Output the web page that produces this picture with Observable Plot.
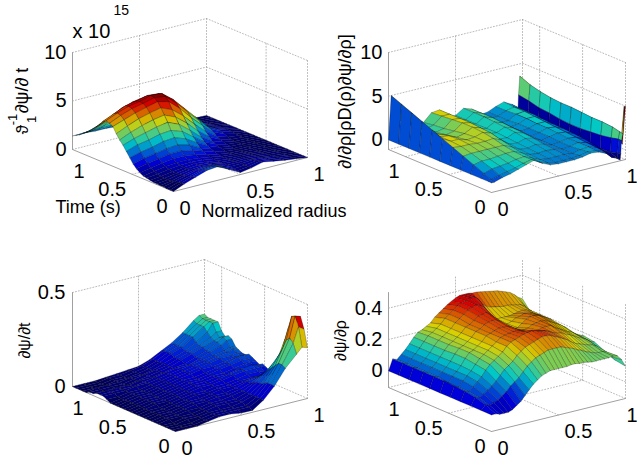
<!DOCTYPE html>
<html><head><meta charset="utf-8">
<script src="https://cdn.jsdelivr.net/npm/d3@7"></script>
<script src="https://cdn.jsdelivr.net/npm/@observablehq/plot@0.6"></script>
<style>html,body{margin:0;padding:0;background:#fff}</style></head><body><div id="chart"></div>
<script>
// --- Values. Rows: fraction along the time axis; columns: normalized radius.
const p1Rows=[0,.033,.067,.1,.133,.167,.2,.233,.267,.3,.333,.367,.4,.433,.467,.5,.533,.567,.6,.633,.667,.7,.733,.767,.8,.833,.867,.9,.933,.967,1];
const p1Cols=[0,.083,.167,.25,.333,.417,.5,.583,.667,.75,.833,.917,1];
const p1Z=[
[0,.5,.9,1.3,1.4,.8,.2,.4,.7,.5,.3,.15,0],
[0,.45,.85,1.2,1.3,.8,.25,.4,.65,.45,.3,.15,0],
[0,.35,.7,1,1.15,.8,.3,.4,.55,.42,.28,.12,0],
[.05,.3,.6,.9,1,.8,.4,.4,.5,.4,.25,.1,0],
[.05,.22,.52,.75,.85,.72,.4,.4,.42,.32,.2,.1,0],
[.07,.2,.46,.65,.75,.65,.4,.36,.36,.28,.18,.1,0],
[.1,.2,.4,.6,.7,.6,.4,.3,.3,.25,.15,.1,0],
[.16,.26,.45,.6,.7,.6,.4,.3,.26,.22,.12,.07,0],
[.23,.36,.56,.67,.72,.62,.43,.3,.23,.18,.1,.05,0],
[.3,.5,.7,.8,.8,.7,.5,.3,.2,.15,.1,.05,0],
[.5,.7,.9,1.05,1.05,.88,.62,.36,.2,.12,.1,.05,0],
[.75,1,1.2,1.4,1.42,1.2,.8,.46,.22,.1,.1,.05,0],
[1.1,1.4,1.6,1.8,1.9,1.6,1,.6,.3,.1,.1,.05,0],
[1.6,1.9,2.1,2.4,2.5,2.1,1.4,.8,.36,.16,.1,.05,0],
[2.1,2.5,2.7,3,3.1,2.7,1.85,1.05,.5,.22,.1,.05,0],
[2.6,3,3.3,3.6,3.8,3.3,2.4,1.4,.7,.3,.1,.05,0],
[3,3.5,3.9,4.2,4.4,3.9,3,1.9,1,.42,.16,.08,0],
[3.5,4,4.45,4.75,5,4.5,3.6,2.45,1.4,.62,.25,.1,0],
[4.1,4.5,4.9,5.2,5.5,5.2,4.2,3,1.9,.9,.4,.15,0],
[4.3,4.8,5.2,5.45,5.75,5.6,4.6,3.4,2.25,1.1,.55,.2,0],
[4.4,4.9,5.3,5.5,5.85,5.75,4.85,3.65,2.45,1.25,.62,.25,0],
[4.2,4.7,5.2,5.4,5.7,5.6,4.8,3.6,2.4,1.2,.6,.25,0],
[3.75,4.25,4.85,5.2,5.4,5.2,4.5,3.4,2.25,1.1,.55,.22,0],
[3.35,3.85,4.4,4.75,4.95,4.75,4.05,3,1.9,.95,.48,.18,0],
[3,3.4,3.9,4.2,4.4,4.2,3.5,2.6,1.6,.8,.4,.15,0],
[2.65,3,3.35,3.6,3.75,3.6,2.95,2.2,1.35,.66,.33,.12,0],
[2.35,2.6,2.9,3.05,3.2,3.05,2.5,1.8,1.1,.52,.26,.1,0],
[2.1,2.2,2.4,2.5,2.6,2.4,2,1.4,.9,.4,.2,.1,0],
[1.8,1.9,2,2,2.05,1.9,1.6,1.12,.7,.32,.14,.06,0],
[1.6,1.65,1.65,1.62,1.6,1.5,1.25,.85,.52,.26,.1,.05,0],
[1.4,1.4,1.3,1.3,1.2,1.1,.9,.6,.4,.2,.1,.05,0]];

const p2Rows=[0,.03,.1,.2,.3,.4,.5,.6,.7,.8,.9,1];
const p2Cols=[0,.02,.08,.14,.2,.26,.32,.38,.44,.5,.56,.62,.68,.74,.8,.86,.92,.96,.965,.97,.98,.99,1];
const p2Z=[
[0,0,.3,.5,.8,1.1,1.4,.8,.4,.3,.3,.3,.4,.6,.5,.1,-.6,-1,-.3,1.2,1.9,5,5],
[0,.15,.4,.6,.8,1.1,1.3,.8,.5,.3,.3,.3,.4,.6,.5,.2,-.7,-.9,-.4,1.2,2,.8,.5],
[0,.5,.8,.9,1,1.2,1.3,.9,.5,.4,.4,.4,.3,.5,.6,.3,-.4,-.6,-.6,1,2.2,1,.7],
[0,1,1.2,1.2,1.3,1.4,1.4,1,.6,.5,.6,.5,.3,.4,.6,.4,-.1,-.7,-.7,.8,2.3,1.1,.8],
[0,1.5,1.6,1.6,1.6,1.6,1.6,1.2,.7,.6,.8,.6,.3,.4,.6,.5,.1,-.8,-.8,.7,2.3,1.1,.8],
[0,2,1.9,1.9,1.8,1.8,1.9,1.5,.8,.7,1,.8,.3,.5,.7,.6,.2,-.8,-.8,.6,2.4,1.2,.9],
[0,2.5,2,2,1.7,1.8,2.1,1.8,.9,.8,1.2,.9,.3,.5,.8,.7,.3,-.8,-.8,.6,2.5,1.3,1],
[0,3,2,1.9,1.5,1.7,2.2,1.9,1,.9,1.3,1,.4,.5,.8,.8,.3,-.8,-.8,.7,2.5,1.3,1],
[0,3.5,2,1.6,1.3,1.5,2.2,2,1.1,.9,1.4,1.1,.4,.5,.9,.9,.4,-.8,-.8,.9,2.6,1.4,1.1],
[0,4,2,1.5,1.1,1.3,2.1,2,1.1,.9,1.5,1.2,.4,.4,.9,1,.5,-.8,-.8,1,2.8,1.6,1.3],
[0,4.5,2,1.4,1,1.2,2,2,1.1,.9,1.5,1.2,.3,.4,.8,1,.5,-.8,-.8,1.3,3.1,1.9,1.6],
[0,5,2,1.4,.9,1,1.9,2,1,.9,1.5,1.2,.3,.4,.8,1.1,.6,-.8,-.8,1.5,3.6,2.4,2.1]];

const p3Rows=p1Rows;
const p3Cols=[0,.083,.167,.25,.333,.417,.5,.583,.667,.75,.833,.917,.958,1];
const p3Z=[
[0,0,0,.01,.02,.02,.01,.01,.05,.11,.19,.25,.28,.27],
[0,0,0,.01,.02,.02,.02,.02,.05,.11,.2,.3,.38,.36],
[0,0,0,.01,.02,.02,.02,.02,.05,.11,.2,.32,.43,.42],
[0,0,.01,.01,.02,.02,.02,.03,.05,.1,.18,.3,.42,.4],
[0,0,.01,.01,.02,.03,.03,.03,.05,.09,.16,.25,.35,.33],
[0,.01,.01,.01,.02,.03,.03,.03,.05,.09,.14,.21,.28,.27],
[0,.01,.01,.02,.02,.03,.03,.04,.05,.08,.12,.17,.21,.2],
[0,.01,.01,.02,.03,.03,.04,.04,.05,.07,.1,.13,.15,.15],
[0,.01,.01,.02,.03,.03,.04,.04,.05,.07,.08,.1,.11,.1],
[0,.01,.01,.02,.03,.03,.04,.05,.05,.06,.07,.07,.07,.06],
[0,.01,.01,.02,.03,.04,.04,.05,.05,.06,.06,.06,.05,.05],
[0,.01,.01,.02,.03,.04,.04,.05,.05,.06,.07,.07,.06,.06],
[0,.01,.02,.02,.03,.04,.05,.05,.06,.07,.08,.08,.08,.07],
[0,.01,.02,.02,.03,.04,.05,.05,.06,.07,.08,.09,.08,.08],
[0,.01,.02,.02,.03,.04,.05,.05,.06,.06,.07,.07,.07,.07],
[0,.01,.02,.02,.03,.04,.05,.05,.06,.06,.07,.08,.08,.08],
[0,.01,.02,.02,.03,.04,.05,.05,.06,.07,.08,.09,.09,.09],
[0,.01,.02,.02,.03,.04,.05,.05,.06,.07,.08,.1,.1,.1],
[0,.01,.02,.02,.03,.04,.05,.06,.07,.07,.08,.09,.09,.09],
[0,.01,.02,.02,.03,.04,.05,.06,.07,.08,.09,.09,.1,.09],
[.01,.01,.02,.02,.03,.04,.05,.06,.07,.08,.09,.1,.11,.1],
[.02,.02,.02,.03,.03,.04,.05,.06,.07,.08,.09,.1,.11,.11],
[.02,.02,.02,.02,.03,.04,.05,.06,.06,.08,.1,.12,.14,.14],
[.02,.02,.02,.02,.03,.03,.04,.05,.06,.08,.1,.13,.15,.15],
[.01,.01,.01,.01,.02,.03,.04,.05,.07,.09,.11,.13,.14,.14],
[.01,.01,.01,.01,.02,.03,.04,.05,.07,.09,.11,.14,.16,.16],
[0,.01,.01,.01,.02,.02,.03,.05,.07,.09,.12,.16,.2,.2],
[0,0,0,.01,.01,.02,.03,.05,.08,.1,.14,.18,.2,.2],
[0,0,0,.01,.01,.02,.03,.05,.08,.1,.14,.18,.2,.2],
[0,0,0,.01,.01,.02,.03,.05,.08,.1,.14,.18,.2,.2],
[0,0,0,.005,.01,.015,.02,.04,.07,.1,.14,.19,.21,.21]];

const p4Rows=[0,.1,.2,.3,.4,.5,.6,.7,.8,.9,1];
const p4Cols=[0,.031,.063,.094,.125,.156,.188,.219,.25,.281,.313,.344,.375,.406,.438,.469,.5,.531,.563,.594,.625,.656,.688,.719,.75,.781,.813,.844,.875,.906,.938,.969,1];
const p4Z=[
[0,0,-.01,-.01,-.01,0,.02,.04,.07,.1,.13,.15,.17,.18,.19,.19,.19,.19,.19,.195,.195,.19,.19,.185,.18,.18,.18,.18,.18,.185,.18,.15,.1],
[0,.03,.02,.03,.04,.06,.08,.11,.13,.15,.18,.21,.23,.25,.26,.27,.28,.28,.28,.28,.27,.26,.25,.235,.225,.21,.2,.19,.185,.185,.175,.14,.11],
[0,.05,.04,.055,.075,.095,.12,.15,.18,.2,.22,.25,.27,.29,.3,.31,.32,.33,.33,.325,.31,.3,.285,.27,.25,.235,.225,.215,.205,.2,.185,.15,.14],
[0,.06,.05,.075,.1,.125,.16,.19,.21,.23,.25,.28,.3,.31,.32,.33,.335,.34,.335,.325,.32,.31,.295,.285,.28,.265,.255,.24,.225,.215,.2,.18,.17],
[0,.065,.05,.085,.11,.135,.17,.2,.22,.24,.26,.28,.3,.31,.315,.32,.32,.31,.3,.29,.29,.29,.3,.3,.3,.28,.265,.25,.235,.225,.205,.185,.18],
[0,.07,.05,.085,.11,.14,.18,.21,.22,.24,.26,.29,.3,.31,.32,.32,.32,.31,.29,.275,.27,.275,.29,.295,.3,.295,.285,.27,.255,.24,.22,.18,.17],
[0,.07,.06,.085,.11,.14,.18,.21,.22,.24,.26,.29,.3,.32,.33,.335,.33,.315,.29,.265,.25,.25,.27,.29,.3,.3,.295,.28,.265,.25,.22,.175,.155],
[0,.07,.06,.085,.11,.14,.175,.205,.22,.24,.26,.29,.3,.32,.34,.345,.35,.33,.305,.27,.245,.245,.255,.27,.275,.285,.28,.275,.26,.25,.22,.175,.15],
[0,.07,.06,.085,.11,.14,.175,.205,.22,.24,.26,.29,.31,.33,.35,.36,.37,.36,.34,.3,.265,.25,.25,.25,.25,.255,.26,.265,.26,.25,.225,.185,.15],
[0,.07,.06,.085,.11,.14,.175,.205,.22,.24,.26,.29,.31,.33,.35,.36,.37,.38,.38,.36,.32,.3,.29,.285,.28,.275,.275,.27,.265,.26,.245,.21,.17],
[0,.07,.06,.085,.11,.14,.175,.2,.21,.225,.24,.27,.29,.31,.33,.345,.36,.37,.37,.37,.365,.365,.36,.355,.35,.345,.34,.33,.32,.31,.29,.265,.25]];

const timeTicks=[0,.5,1];
const radiusTicks=[0,.5,1];
const p1ZTicks=[0,5,10], p2ZTicks=[0,5,10], p3ZTicks=[0,.5], p4ZTicks=[0,.2,.4];
const zTickText1=["0","5","10"], zTickText2=["0","5","10"], zTickText3=["0","0.5"], zTickText4=["0","0.2","0.4"];

// --- Layout and colour: how each panel's box sits on the page.
const panels=[
 {rows:p1Rows,cols:p1Cols,Z:p1Z,zt:p1ZTicks,ztx:zTickText1,front:[173,191],rv:[134,-34],uv:[-101,-42],zLo:0,zHi:10,h:97,cMin:0,cMax:5.9,tMax:1.22,wallT:[.5],zx:66},
 {rows:p2Rows,cols:p2Cols,Z:p2Z,zt:p2ZTicks,ztx:zTickText2,front:[491,192],rv:[134,-33],uv:[-103,-43],zLo:-1.1,zHi:10,h:97,cMin:-1.1,cMax:3.9,tMax:1.2,wallT:[.5,1],zx:382,minColor:true},
 {rows:p3Rows,cols:p3Cols,Z:p3Z,zt:p3ZTicks,ztx:zTickText3,front:[175,431],rv:[132,-33],uv:[-103,-45],zLo:0,zHi:.5,h:94,cMin:0,cMax:.43,tMax:1.2,wallT:[.5,1],zx:65},
 {rows:p4Rows,cols:p4Cols,Z:p4Z,zt:p4ZTicks,ztx:zTickText4,front:[491,431],rv:[134,-33],uv:[-103,-44],zLo:-.106,zHi:.5,h:95,cMin:-.06,cMax:.42,tMax:1.2,wallT:[.5,1],zx:382}
];
const jetStops=[0,.125,.375,.625,.875,1];
const jetColors=["#000060","#0000d8","#00c8c8","#d8d000","#d80000","#700000"];
const FONT="Liberation Sans, Arial, DejaVu Sans, sans-serif";

function proj(p,r,u,z){
  const k=p.h/(p.zHi-p.zLo);
  return {x:p.front[0]+r*p.rv[0]+u*p.uv[0], y:p.front[1]+r*p.rv[1]+u*p.uv[1]-(z-p.zLo)*k};
}
const quads=[],grid=[],axes=[],tickLabels=[];
let id=0;
function seg(out,p,a,b){const g=id++;out.push({...proj(p,...a),g},{...proj(p,...b),g});}

panels.forEach(p=>{
  const zs=[...new Set([p.zLo,...p.zt])];
  zs.forEach(z=>{seg(grid,p,[0,1,z],[1,1,z]);seg(grid,p,[1,1,z],[1,0,z]);});
  seg(grid,p,[1,1,p.zLo],[1,1,p.zHi]);
  seg(grid,p,[1,0,p.zLo],[1,0,p.zHi]);
  radiusTicks.filter(r=>r>0&&r<1).forEach(r=>{
    seg(grid,p,[r,1,p.zLo],[r,1,p.zHi]);
    seg(grid,p,[r,0,p.zLo],[r,1,p.zLo]);
  });
  p.wallT.forEach(t=>{
    const u=t/p.tMax;
    seg(grid,p,[1,u,p.zLo],[1,u,p.zHi]);
    seg(grid,p,[0,u,p.zLo],[1,u,p.zLo]);
  });
  seg(axes,p,[0,1,p.zLo],[0,1,p.zHi]);
  seg(axes,p,[0,0,p.zLo],[0,1,p.zLo]);
  seg(axes,p,[0,0,p.zLo],[1,0,p.zLo]);
  p.zt.forEach((z,i)=>{const q=proj(p,0,1,z);tickLabels.push({x:p.zx,y:q.y,t:p.ztx[i],a:"end"});});
  timeTicks.forEach(t=>{const q=proj(p,0,t/p.tMax,p.zLo);tickLabels.push({x:q.x-6,y:q.y+15,t:String(t),a:"end"});});
  radiusTicks.forEach(r=>{
    const q=proj(p,r,0,p.zLo), px=q.x+6;
    if(px+12>637) tickLabels.push({x:637,y:q.y+17,t:String(r),a:"end"});
    else tickLabels.push({x:px,y:q.y+17,t:String(r),a:"start"});
  });
  for(let j=p.rows.length-2;j>=0;j--)for(let i=p.cols.length-2;i>=0;i--){
    const zc=p.minColor?Math.min(p.Z[j][i],p.Z[j][i+1]):p.Z[j][i];
    const c=Math.max(0,Math.min(1,(zc-p.cMin)/(p.cMax-p.cMin)));
    const g=id++;
    [[i,j],[i+1,j],[i+1,j+1],[i,j+1],[i,j]].forEach(([a,b])=>{
      quads.push({...proj(p,p.cols[a],p.rows[b],p.Z[b][a]),g,c});
    });
  }
});

const startLabels=tickLabels.filter(d=>d.a==="start"), endLabels=tickLabels.filter(d=>d.a==="end");
const textSm=[{x:55,y:207,t:"Time (s)"},{x:201,y:211,t:"Normalized radius"}];
const rotated=[
 {x:22,y:90,t:"∂ψ/∂ t",s:18},{x:22,y:129,t:"ϑ",s:17},
 {x:345,y:101,t:"∂/∂ρ[ρD(ρ)∂ψ/∂ρ]",s:18},
 {x:24,y:340,t:"∂ψ/∂t",s:16},{x:340,y:340,t:"∂ψ/∂ρ",s:16}];
const rotatedSmall=[{x:31,y:119,t:"1"},{x:12,y:119,t:"-1"}];

const chart=Plot.plot({
  width:637,height:460,margin:0,
  style:{background:"#fff",overflow:"visible"},
  x:{domain:[0,637],axis:null},
  y:{domain:[460,0],axis:null},
  color:{type:"linear",domain:jetStops,range:jetColors},
  marks:[
    Plot.line(grid,{x:"x",y:"y",z:"g",stroke:"#a8a8a8",strokeWidth:.8,strokeDasharray:"1,2"}),
    Plot.line(axes,{x:"x",y:"y",z:"g",stroke:"#a0a0a0",strokeWidth:1}),
    Plot.line(quads,{x:"x",y:"y",z:"g",fill:"c",stroke:"#000",strokeWidth:.3,strokeOpacity:.8}),
    Plot.text(endLabels,{x:"x",y:"y",text:"t",textAnchor:"end",fontSize:20,fontFamily:FONT,fill:"#000"}),
    Plot.text(startLabels,{x:"x",y:"y",text:"t",textAnchor:"start",fontSize:20,fontFamily:FONT,fill:"#000"}),
    Plot.text(textSm,{x:"x",y:"y",text:"t",textAnchor:"start",fontSize:18,fontFamily:FONT,fill:"#000"}),
    Plot.text(rotated,{x:"x",y:"y",text:"t",fontSize:"s",rotate:-90,fontFamily:FONT,fill:"#000"}),
    Plot.text(rotatedSmall,{x:"x",y:"y",text:"t",fontSize:13,rotate:-90,fontFamily:FONT,fill:"#000"}),
    Plot.text(["x 10"],{x:[72],y:[31],text:d=>d,textAnchor:"start",fontSize:20,fontFamily:FONT,fill:"#000"}),
    Plot.text(["15"],{x:[113],y:[10],text:d=>d,textAnchor:"start",fontSize:14,fontFamily:FONT,fill:"#000"})
  ]
});
document.getElementById("chart").appendChild(chart);
</script></body></html>
